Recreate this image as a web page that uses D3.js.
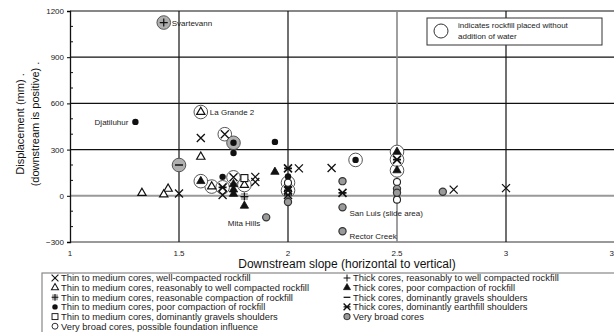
<!DOCTYPE html>
<html>
<head>
<meta charset="utf-8">
<script src="https://cdn.jsdelivr.net/npm/d3@7"></script>
<style>
  html, body { margin: 0; padding: 0; background: #fff; }
  svg { display: block; font-family: "Liberation Sans", Arial, sans-serif; }
</style>
</head>
<body>
<svg id="chart" width="614" height="332"></svg>
<script>
// Downstream slope (H:V) and displacement (mm); dry: 0 = water added,
// 1 = placed without water, 2 = placed without water (shaded ring)
const thinWellCompacted = [
  { x: 1.50, y: 15, dry: 0 }, { x: 1.60, y: 375, dry: 0 }, { x: 1.70, y: 5, dry: 0 },
  { x: 1.85, y: 123, dry: 0 }, { x: 1.85, y: 90, dry: 0 }, { x: 2.05, y: 178, dry: 0 },
  { x: 2.20, y: 180, dry: 0 }, { x: 2.76, y: 40, dry: 0 }, { x: 3.00, y: 50, dry: 0 },
  { x: 1.71, y: 400, dry: 1 }, { x: 1.75, y: 120, dry: 1 }
];
const thinReasonablyWell = [
  { x: 1.33, y: 18, dry: 0 }, { x: 1.45, y: 45, dry: 0 }, { x: 1.43, y: 8, dry: 0 },
  { x: 1.60, y: 253, dry: 0 }, { x: 1.60, y: 544, dry: 1, label: "La Grande 2" },
  { x: 1.65, y: 60, dry: 1 }, { x: 1.80, y: 70, dry: 1 }
];
const thinReasonable = [
  { x: 1.80, y: -5, dry: 0 }, { x: 1.43, y: 1125, dry: 2, label: "Svartevann" }
];
const thinPoor = [
  { x: 1.30, y: 480, dry: 0, label: "Djatiluhur" }, { x: 1.94, y: 350, dry: 0 },
  { x: 1.75, y: 278, dry: 0 }, { x: 1.70, y: 123, dry: 0 }, { x: 2.00, y: 125, dry: 0 },
  { x: 2.00, y: 55, dry: 0 }, { x: 2.31, y: 233, dry: 1 }, { x: 1.75, y: 344, dry: 2 }
];
const thinGravels = [ { x: 1.80, y: 115, dry: 0 } ];
const broadFoundation = [ { x: 2.50, y: 90, dry: 0 }, { x: 2.50, y: -25, dry: 0 }, { x: 2.00, y: 85, dry: 1 } ];
const thickWell = [];
const thickPoor = [
  { x: 1.94, y: 155, dry: 0 }, { x: 1.80, y: -65, dry: 0 }, { x: 1.60, y: 95, dry: 1 },
  { x: 1.75, y: 75, dry: 0 }, { x: 1.75, y: 40, dry: 0 }, { x: 1.75, y: 12, dry: 0 },
  { x: 2.50, y: 285, dry: 1 }, { x: 2.50, y: 165, dry: 1 }
];
const thickGravels = [ { x: 1.50, y: 200, dry: 2 } ];
const thickEarthfill = [
  { x: 2.00, y: 178, dry: 0 }, { x: 2.00, y: 5, dry: 0 }, { x: 2.25, y: 19, dry: 0 },
  { x: 2.00, y: 35, dry: 1 }, { x: 2.50, y: 235, dry: 1 }, { x: 1.70, y: 55, dry: 1 }
];
const veryBroad = [
  { x: 1.90, y: -140, dry: 0, label: "Mita Hills" }, { x: 2.00, y: -40, dry: 0 },
  { x: 2.25, y: 95, dry: 0 }, { x: 2.25, y: -75, dry: 0, label: "San Luis (slide area)" },
  { x: 2.25, y: -230, dry: 0, label: "Rector Creek" }, { x: 2.50, y: 45, dry: 0 },
  { x: 2.50, y: 20, dry: 0 }, { x: 2.71, y: 26, dry: 0 }
];

const xTicks = [1, 1.5, 2, 2.5, 3, 3.5];
const yTicks = [-300, 0, 300, 600, 900, 1200];
const yMinorTicks = d3.range(-300, 1201, 100);

const series = [
  { name: "Thin to medium cores, well-compacted rockfill", sym: "x", data: thinWellCompacted },
  { name: "Thin to medium cores, reasonably to well compacted rockfill", sym: "tri", data: thinReasonablyWell },
  { name: "Thin to medium cores, reasonable compaction of rockfill", sym: "plusSq", data: thinReasonable },
  { name: "Thin to medium cores, poor compaction of rockfill", sym: "dot", data: thinPoor },
  { name: "Thin to medium cores, dominantly gravels shoulders", sym: "square", data: thinGravels },
  { name: "Very broad cores, possible foundation influence", sym: "ring", data: broadFoundation },
  { name: "Thick cores, reasonably to well compacted rockfill", sym: "plus", data: thickWell },
  { name: "Thick cores, poor compaction of rockfill", sym: "triFill", data: thickPoor },
  { name: "Thick cores, dominantly gravels shoulders", sym: "minus", data: thickGravels },
  { name: "Thick cores, dominantly earthfill shoulders", sym: "star", data: thickEarthfill },
  { name: "Very broad cores", sym: "gray", data: veryBroad }
];

// label placement relative to its marker
const labelPlacement = {
  "Svartevann": { dx: 8, dy: 3, anchor: "start" },
  "La Grande 2": { dx: 9, dy: 3, anchor: "start" },
  "Djatiluhur": { dx: -7, dy: 3, anchor: "end" },
  "Mita Hills": { dx: -6, dy: 9, anchor: "end" },
  "San Luis (slide area)": { dx: 7, dy: 9, anchor: "start" },
  "Rector Creek": { dx: 7, dy: 8, anchor: "start" }
};

const svg = d3.select("#chart");
const x = d3.scaleLinear().domain([1, 3.5]).range([70, 615]);
const y = d3.scaleLinear().domain([-300, 1200]).range([242, 11]);

// grid
const grid = svg.append("g");
grid.selectAll("line.h").data(yTicks).join("line")
  .attr("x1", x(1)).attr("x2", x(3.5))
  .attr("y1", d => y(d)).attr("y2", d => y(d))
  .attr("stroke", d => d <= 0 ? "#999" : "#111")
  .attr("stroke-width", d => d <= 0 ? 2 : 1.2);
grid.selectAll("line.v").data(xTicks.filter(t => t > 1 && t < 3.5)).join("line")
  .attr("x1", d => x(d)).attr("x2", d => x(d))
  .attr("y1", y(1200)).attr("y2", y(-300))
  .attr("stroke", d => d === 2.5 ? "#888" : "#111")
  .attr("stroke-width", d => d === 2.5 ? 1.6 : 1.2);

// y axis
const yAxis = svg.append("g").attr("transform", `translate(${x(1)},0)`)
  .call(d3.axisLeft(y).tickValues(yTicks).tickSize(3).tickPadding(3).tickFormat(d3.format("d")));
yAxis.select(".domain").attr("stroke", "#111").attr("stroke-width", 1.3);
yAxis.selectAll("text").attr("font-size", 8).attr("fill", "#222").attr("font-family", "Liberation Sans, Arial, sans-serif");
svg.append("g").selectAll("line").data(yMinorTicks.filter(v => !yTicks.includes(v))).join("line")
  .attr("x1", x(1)).attr("x2", x(1) + 3)
  .attr("y1", d => y(d)).attr("y2", d => y(d))
  .attr("stroke", "#111").attr("stroke-width", 1);

// x tick labels
svg.append("g").selectAll("text").data(xTicks).join("text")
  .attr("x", d => x(d)).attr("y", 256)
  .attr("text-anchor", "middle").attr("font-size", 8).attr("fill", "#222")
  .text(d => d);

// axis titles
svg.append("text").attr("x", 347).attr("y", 267.5).attr("text-anchor", "middle")
  .attr("font-size", 12).attr("fill", "#111")
  .text("Downstream slope (horizontal to vertical)");
svg.append("text").attr("transform", "translate(24,124) rotate(-90)").attr("text-anchor", "middle")
  .attr("font-size", 11).attr("fill", "#111").text("Displacement (mm) .");
svg.append("text").attr("transform", "translate(39,124) rotate(-90)").attr("text-anchor", "middle")
  .attr("font-size", 11).attr("fill", "#111").text("(downstream is positive) .");

// marker glyphs
function drawSymbol(g, sym) {
  const s = 4;
  switch (sym) {
    case "x":
      g.append("path").attr("d", `M${-s},${-s}L${s},${s}M${-s},${s}L${s},${-s}`)
        .attr("stroke", "#111").attr("stroke-width", 1.3).attr("fill", "none");
      break;
    case "star":
      g.append("path").attr("d", `M${-s},${-s}L${s},${s}M${-s},${s}L${s},${-s}M${-s},0L${s},0`)
        .attr("stroke", "#111").attr("stroke-width", 1.6).attr("fill", "none");
      break;
    case "tri":
      g.append("path").attr("d", d3.symbol(d3.symbolTriangle, 30)())
        .attr("fill", "#fff").attr("stroke", "#111").attr("stroke-width", 1.2);
      break;
    case "triFill":
      g.append("path").attr("d", d3.symbol(d3.symbolTriangle, 30)())
        .attr("fill", "#111").attr("stroke", "#111").attr("stroke-width", 0.8);
      break;
    case "plusSq":
      g.append("rect").attr("x", -3.5).attr("y", -3.5).attr("width", 7).attr("height", 7).attr("fill", "#aaa");
      g.append("path").attr("d", `M${-s},0L${s},0M0,${-s}L0,${s}`)
        .attr("stroke", "#111").attr("stroke-width", 1.2);
      break;
    case "plus":
      g.append("path").attr("d", `M${-s},0L${s},0M0,${-s}L0,${s}`)
        .attr("stroke", "#111").attr("stroke-width", 1.2);
      break;
    case "minus":
      g.append("path").attr("d", `M${-s},0L${s},0`).attr("stroke", "#111").attr("stroke-width", 1.5);
      break;
    case "dot":
      g.append("circle").attr("r", 3.2).attr("fill", "#111");
      break;
    case "square":
      g.append("rect").attr("x", -3.5).attr("y", -3.5).attr("width", 7).attr("height", 7)
        .attr("fill", "#fff").attr("stroke", "#111").attr("stroke-width", 1.1);
      break;
    case "ring":
      g.append("circle").attr("r", 3.5).attr("fill", "#fff").attr("stroke", "#222").attr("stroke-width", 1.1);
      break;
    case "gray":
      g.append("circle").attr("r", 3.6).attr("fill", "#9a9a9a").attr("stroke", "#333").attr("stroke-width", 1.2);
      break;
  }
}

const points = series.flatMap(s => s.data.map(d => ({ ...d, sym: s.sym })));

// rings marking rockfill placed without water
svg.append("g").selectAll("circle").data(points.filter(d => d.dry)).join("circle")
  .attr("cx", d => x(d.x)).attr("cy", d => y(d.y)).attr("r", 6.8)
  .attr("fill", d => d.dry === 2 ? "#b0b0b0" : "#fff")
  .attr("stroke", "#555").attr("stroke-width", 1);

const marks = svg.append("g");
points.forEach(d => {
  const g = marks.append("g").attr("transform", `translate(${x(d.x)},${y(d.y)})`);
  drawSymbol(g, d.sym);
});

// dam names
svg.append("g").selectAll("text").data(points.filter(d => d.label)).join("text")
  .attr("x", d => x(d.x) + labelPlacement[d.label].dx)
  .attr("y", d => y(d.y) + labelPlacement[d.label].dy)
  .attr("text-anchor", d => labelPlacement[d.label].anchor)
  .attr("font-size", 8).attr("fill", "#222")
  .text(d => d.label);

// note box
const note = svg.append("g");
note.append("rect").attr("x", 427).attr("y", 18).attr("width", 175).attr("height", 27)
  .attr("fill", "#fff").attr("stroke", "#333").attr("stroke-width", 1);
note.append("circle").attr("cx", 441).attr("cy", 31).attr("r", 7)
  .attr("fill", "none").attr("stroke", "#333").attr("stroke-width", 1);
note.append("text").attr("x", 458).attr("y", 28).attr("font-size", 8).attr("fill", "#222")
  .text("indicates rockfill placed without");
note.append("text").attr("x", 458).attr("y", 39).attr("font-size", 8).attr("fill", "#222")
  .text("addition of water");

// legend
const legend = svg.append("g");
legend.append("rect").attr("x", 42).attr("y", 273).attr("width", 620).attr("height", 80)
  .attr("fill", "#fff").attr("stroke", "#888").attr("stroke-width", 1.2);
const rowY = [278, 287.6, 297.3, 306.9, 316.6, 326.2];
series.forEach((s, i) => {
  const col = i < 6 ? 0 : 1;
  const row = col === 0 ? i : i - 6;
  const sx = col === 0 ? 55 : 347;
  const g = legend.append("g").attr("transform", `translate(${sx},${rowY[row]}) scale(0.85)`);
  drawSymbol(g, s.sym);
  legend.append("text").attr("x", sx + 6).attr("y", rowY[row] + 3.3)
    .attr("font-size", 9.4).attr("fill", "#222").text(s.name);
});
</script>
</body>
</html>
